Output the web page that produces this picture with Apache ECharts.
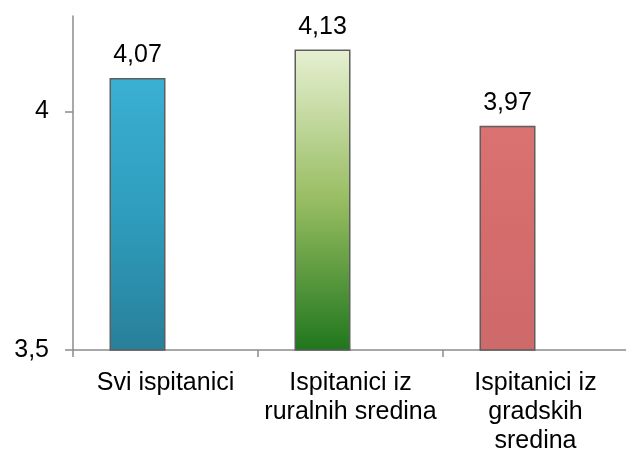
<!DOCTYPE html>
<html>
<head>
<meta charset="utf-8">
<script src="https://cdn.jsdelivr.net/npm/echarts@6/dist/echarts.min.js"></script>
<style>
    html, body { margin: 0; padding: 0; background: #fff; }
    #myChart { width: 626px; height: 452px; }
</style>
</head>
<body>
<div id="myChart"></div>
<script>
// podaci sa slike
var categories = ['Svi ispitanici', 'Ispitanici iz\nruralnih sredina', 'Ispitanici iz\ngradskih\nsredina'];
var values = [4.07, 4.13, 3.97];
var emptySeries = [null, null, null]; // prazna druga serija (pomak stubaca ulijevo)
var yTicks = [3.5, 4];

var barColors = [
    ['#3ab0d2', '#2f9dbe', '#287f99'],
    ['#e6f0d2', '#98bd62', '#1f761c'],
    ['#da7272', '#d46c6c', '#cf6a6a']
];

function comma(v) {
    return String(v).replace('.', ',');
}

var myChart = echarts.init(document.getElementById('myChart'));
var font = 'Liberation Sans, Arial, sans-serif';

var barData = values.map(function(v, i) {
    return {
        value: v,
        itemStyle: {
            color: new echarts.graphic.LinearGradient(0, 0, 0, 1, [
                { offset: 0, color: barColors[i][0] },
                { offset: 0.5, color: barColors[i][1] },
                { offset: 1, color: barColors[i][2] }
            ])
        }
    };
});

var option = {
    animation: false,
    grid: { left: 73, right: -2, top: 16, bottom: 102, containLabel: false, outerBoundsMode: 'none' },
    xAxis: {
        type: 'category',
        data: categories,
        axisLine: { show: true, lineStyle: { color: '#8c8c8c', width: 1.5 } },
        axisTick: { show: true, length: 7, lineStyle: { color: '#8c8c8c', width: 1.5 } },
        axisLabel: {
            color: '#000',
            fontFamily: font,
            fontSize: 25,
            lineHeight: 29,
            margin: 19,
            interval: 0
        }
    },
    yAxis: {
        type: 'value',
        min: 3.5,
        max: 4.2,
        interval: 0.5,
        axisLine: { show: true, lineStyle: { color: '#8c8c8c', width: 1.5 } },
        axisTick: { show: true, length: 8, customValues: yTicks, lineStyle: { color: '#8c8c8c', width: 1.5 } },
        splitLine: { show: true, showMinLine: false, showMaxLine: false, lineStyle: { color: '#8c8c8c', width: 1.5 } },
        axisLabel: {
            color: '#000',
            fontFamily: font,
            fontSize: 25,
            margin: 24,
            customValues: yTicks,
            formatter: function(v) { return comma(v); }
        }
    },
    series: [{
        type: 'bar',
        data: barData,
        barWidth: 56,
        barGap: '0%',
        itemStyle: { borderColor: '#5e5e5e', borderWidth: 1.5 },
        label: {
            show: true,
            position: 'top',
            distance: 10,
            color: '#000',
            fontFamily: font,
            fontSize: 25,
            formatter: function(p) { return comma(p.value); }
        }
    }, {
        type: 'bar',
        data: emptySeries,
        barWidth: 56
    }]
};
myChart.setOption(option);
</script>
</body>
</html>
